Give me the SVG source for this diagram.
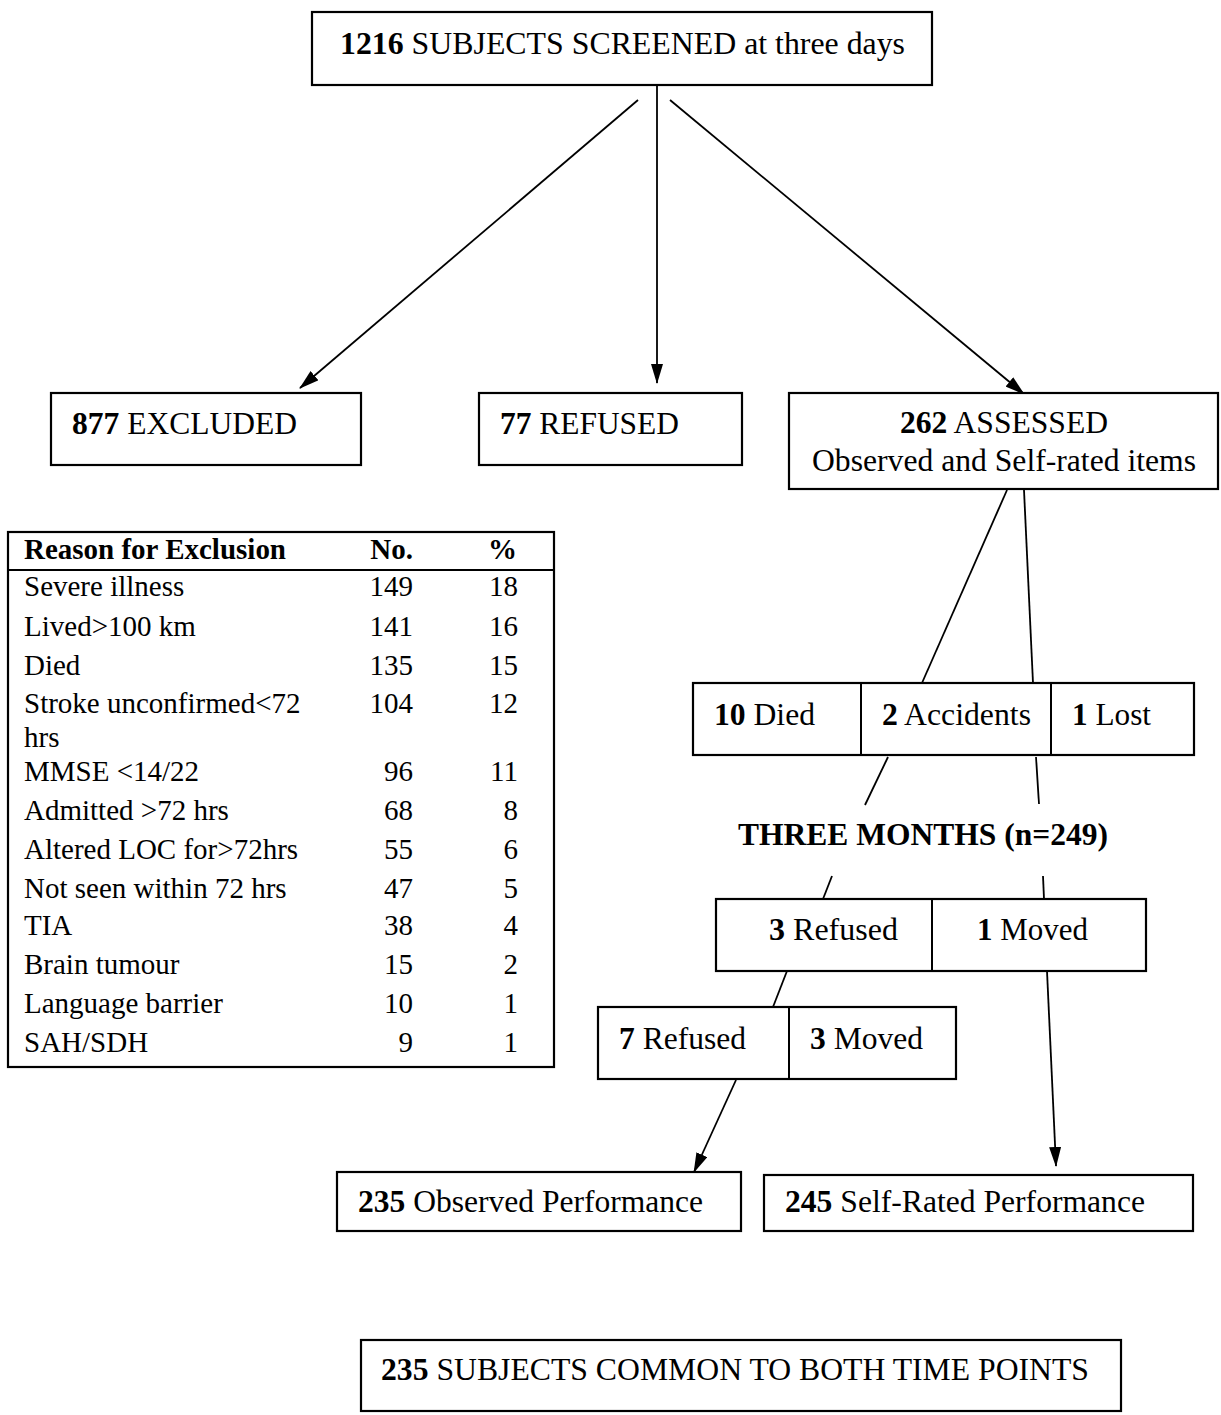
<svg xmlns="http://www.w3.org/2000/svg" width="1221" height="1415" viewBox="0 0 1221 1415">
<style>
.box{fill:#fff;stroke:#000;stroke-width:2.2}
.div{stroke:#000;stroke-width:2}
.t{font-family:"Liberation Serif","Times New Roman",serif;font-size:31px;fill:#000}
.tb{font-family:"Liberation Serif","Times New Roman",serif;font-size:29px;fill:#000}
.b{font-weight:bold}
.ln{stroke:#000;stroke-width:1.8;fill:none}
</style>
<defs>
<marker id="ah" viewBox="0 0 20 12" refX="19" refY="6" markerWidth="20" markerHeight="12" markerUnits="userSpaceOnUse" orient="auto">
<path d="M0,0 L20,6 L0,12 Z" fill="#000"/>
</marker>
</defs>
<rect width="1221" height="1415" fill="#fff"/>

<g id="connectors">
<line class="ln" x1="638" y1="100" x2="300" y2="388" marker-end="url(#ah)"/>
<line class="ln" x1="657" y1="86" x2="657" y2="383" marker-end="url(#ah)"/>
<line class="ln" x1="670" y1="100" x2="1024" y2="394" marker-end="url(#ah)"/>
<line class="ln" x1="1007" y1="490" x2="922" y2="683"/>
<line class="ln" x1="1024" y1="490" x2="1033" y2="683"/>
<line class="ln" x1="888" y1="757" x2="865" y2="805"/>
<line class="ln" x1="1036" y1="757" x2="1039" y2="804"/>
<line class="ln" x1="832" y1="876" x2="823" y2="899"/>
<line class="ln" x1="1043" y1="876" x2="1044" y2="899"/>
<line class="ln" x1="787" y1="971" x2="773" y2="1007"/>
<line class="ln" x1="736" y1="1080" x2="694" y2="1172" marker-end="url(#ah)"/>
<line class="ln" x1="1047" y1="971" x2="1056" y2="1166" marker-end="url(#ah)"/>
</g>

<g id="screened">
<rect class="box" x="312" y="12" width="620" height="73"/>
<text class="t" x="340" y="54" textLength="565" lengthAdjust="spacingAndGlyphs"><tspan class="b">1216</tspan> SUBJECTS SCREENED at three days</text>
</g>

<g id="excluded">
<rect class="box" x="51" y="393" width="310" height="72"/>
<text class="t" x="72" y="434" textLength="225" lengthAdjust="spacingAndGlyphs"><tspan class="b">877</tspan> EXCLUDED</text>
</g>

<g id="refused">
<rect class="box" x="479" y="393" width="263" height="72"/>
<text class="t" x="500" y="434" textLength="179" lengthAdjust="spacingAndGlyphs"><tspan class="b">77</tspan> REFUSED</text>
</g>

<g id="assessed">
<rect class="box" x="789" y="393" width="429" height="96"/>
<text class="t" x="900" y="433" textLength="208" lengthAdjust="spacingAndGlyphs"><tspan class="b">262</tspan> ASSESSED</text>
<text class="t" x="812" y="471" textLength="384" lengthAdjust="spacingAndGlyphs">Observed and Self-rated items</text>
</g>

<g id="exclusion-table">
<rect class="box" x="8" y="532" width="546" height="535"/>
<line class="div" x1="8" y1="570" x2="554" y2="570"/>
<text class="tb b" x="24" y="559" textLength="262" lengthAdjust="spacingAndGlyphs">Reason for Exclusion</text>
<text class="tb b" x="413" y="559" text-anchor="end">No.</text>
<text class="tb b" x="517" y="559" text-anchor="end">%</text>
<g class="tb">
<text x="24" y="596">Severe illness</text><text x="413" y="596" text-anchor="end">149</text><text x="518" y="596" text-anchor="end">18</text>
<text x="24" y="636">Lived&gt;100 km</text><text x="413" y="636" text-anchor="end">141</text><text x="518" y="636" text-anchor="end">16</text>
<text x="24" y="675">Died</text><text x="413" y="675" text-anchor="end">135</text><text x="518" y="675" text-anchor="end">15</text>
<text x="24" y="713">Stroke unconfirmed&lt;72</text><text x="413" y="713" text-anchor="end">104</text><text x="518" y="713" text-anchor="end">12</text>
<text x="24" y="747">hrs</text>
<text x="24" y="781">MMSE &lt;14/22</text><text x="413" y="781" text-anchor="end">96</text><text x="518" y="781" text-anchor="end">11</text>
<text x="24" y="820">Admitted &gt;72 hrs</text><text x="413" y="820" text-anchor="end">68</text><text x="518" y="820" text-anchor="end">8</text>
<text x="24" y="859">Altered LOC for&gt;72hrs</text><text x="413" y="859" text-anchor="end">55</text><text x="518" y="859" text-anchor="end">6</text>
<text x="24" y="898">Not seen within 72 hrs</text><text x="413" y="898" text-anchor="end">47</text><text x="518" y="898" text-anchor="end">5</text>
<text x="24" y="935">TIA</text><text x="413" y="935" text-anchor="end">38</text><text x="518" y="935" text-anchor="end">4</text>
<text x="24" y="974">Brain tumour</text><text x="413" y="974" text-anchor="end">15</text><text x="518" y="974" text-anchor="end">2</text>
<text x="24" y="1013">Language barrier</text><text x="413" y="1013" text-anchor="end">10</text><text x="518" y="1013" text-anchor="end">1</text>
<text x="24" y="1052">SAH/SDH</text><text x="413" y="1052" text-anchor="end">9</text><text x="518" y="1052" text-anchor="end">1</text>
</g>
</g>

<g id="losses-3days">
<rect class="box" x="693" y="683" width="501" height="72"/>
<line class="div" x1="861" y1="683" x2="861" y2="755"/>
<line class="div" x1="1051" y1="683" x2="1051" y2="755"/>
<text class="t" x="714" y="725" textLength="101" lengthAdjust="spacingAndGlyphs"><tspan class="b">10</tspan> Died</text>
<text class="t" x="882" y="725" textLength="149" lengthAdjust="spacingAndGlyphs"><tspan class="b">2</tspan> Accidents</text>
<text class="t" x="1072" y="725" textLength="79" lengthAdjust="spacingAndGlyphs"><tspan class="b">1</tspan> Lost</text>
</g>

<g id="three-months">
<text class="t b" x="738" y="845" textLength="370" lengthAdjust="spacingAndGlyphs">THREE MONTHS (n=249)</text>
</g>

<g id="losses-3months-a">
<rect class="box" x="716" y="899" width="430" height="72"/>
<line class="div" x1="932" y1="899" x2="932" y2="971"/>
<text class="t" x="769" y="940" textLength="129" lengthAdjust="spacingAndGlyphs"><tspan class="b">3</tspan> Refused</text>
<text class="t" x="977" y="940" textLength="111" lengthAdjust="spacingAndGlyphs"><tspan class="b">1</tspan> Moved</text>
</g>

<g id="losses-3months-b">
<rect class="box" x="598" y="1007" width="358" height="72"/>
<line class="div" x1="789" y1="1007" x2="789" y2="1079"/>
<text class="t" x="619" y="1049" textLength="127" lengthAdjust="spacingAndGlyphs"><tspan class="b">7</tspan> Refused</text>
<text class="t" x="810" y="1049" textLength="113" lengthAdjust="spacingAndGlyphs"><tspan class="b">3</tspan> Moved</text>
</g>

<g id="observed">
<rect class="box" x="337" y="1172" width="404" height="59"/>
<text class="t" x="358" y="1212" textLength="345" lengthAdjust="spacingAndGlyphs"><tspan class="b">235</tspan> Observed Performance</text>
</g>

<g id="selfrated">
<rect class="box" x="764" y="1175" width="429" height="56"/>
<text class="t" x="785" y="1212" textLength="360" lengthAdjust="spacingAndGlyphs"><tspan class="b">245</tspan> Self-Rated Performance</text>
</g>

<g id="common">
<rect class="box" x="361" y="1340" width="760" height="71"/>
<text class="t" x="381" y="1380" textLength="708" lengthAdjust="spacingAndGlyphs"><tspan class="b">235</tspan> SUBJECTS COMMON TO BOTH TIME POINTS</text>
</g>
</svg>
